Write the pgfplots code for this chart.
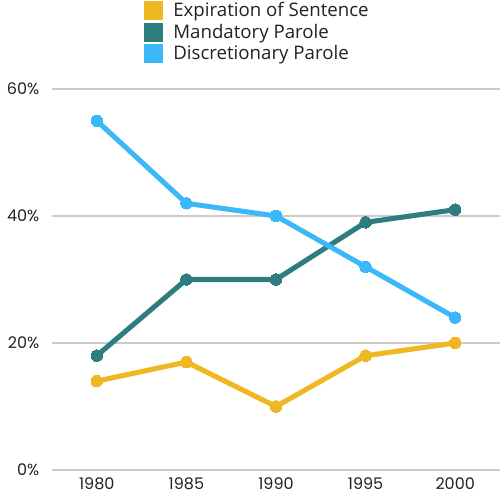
\documentclass[border=0pt]{standalone}
\usepackage{fontspec}
\setmainfont{Open Sans}
\newfontfamily\tickfont{Poppins}
\usepackage{pgfplots}
\pgfplotsset{compat=1.18}

\definecolor{expcol}{HTML}{EFB722}
\definecolor{mancol}{HTML}{2E7E7F}
\definecolor{discol}{HTML}{3BB8F7}
\definecolor{gridcol}{HTML}{CCCCCC}
\definecolor{txtcol}{HTML}{222222}

\begin{document}
\begin{tikzpicture}[x=0.75pt,y=0.75pt]
\begin{axis}[
    scale only axis,
    width=336pt, height=285.75pt,
    xmin=1977.5, xmax=2002.5,
    ymin=0, ymax=60,
    xtick={1980,1985,1990,1995,2000},
    ytick={0,20,40,60},
    xticklabel style={/pgf/number format/1000 sep={}},
    yticklabel={\pgfmathprintnumber{\tick}\%},
    tick label style={font=\tickfont\fontsize{12pt}{14pt}\selectfont, text=txtcol},
    /pgf/number format/assume math mode=true,
    axis line style={draw=none},
    major tick length=0pt,
    ymajorgrids=true,
    grid style={gridcol, line width=0.8pt},
    yticklabel style={xshift=-6pt},
    xticklabel style={yshift=-2pt},
    clip=false,
    legend style={at={(0.205,1.235)}, anchor=north west, draw=none, fill=none,
        font=\fontsize{14pt}{16pt}\selectfont, text=txtcol,
        row sep=0pt, inner sep=0pt},
    legend cell align=left,
    legend image code/.code={\fill[#1] (0pt,-5.2pt) rectangle (10.4pt,5.2pt);
        \path[draw=none, fill=none] (0pt,0pt) -- (18pt,0pt);},
]
\addplot[expcol, line width=3.8pt, mark=*, mark size=4.3pt, mark options={fill=expcol, draw=expcol, line width=0pt}]
    coordinates {(1980,14)(1985,17)(1990,10)(1995,18)(2000,20)};
\addplot[mancol, line width=3.8pt, mark=*, mark size=4.3pt, mark options={fill=mancol, draw=mancol, line width=0pt}]
    coordinates {(1980,18)(1985,30)(1990,30)(1995,39)(2000,41)};
\addplot[discol, line width=3.8pt, mark=*, mark size=4.3pt, mark options={fill=discol, draw=discol, line width=0pt}]
    coordinates {(1980,55)(1985,42)(1990,40)(1995,32)(2000,24)};
\legend{Expiration of Sentence, Mandatory Parole, Discretionary Parole}
\end{axis}
\pgfresetboundingbox
\path (-52,-30) rectangle (448,470);
\end{tikzpicture}
\end{document}
